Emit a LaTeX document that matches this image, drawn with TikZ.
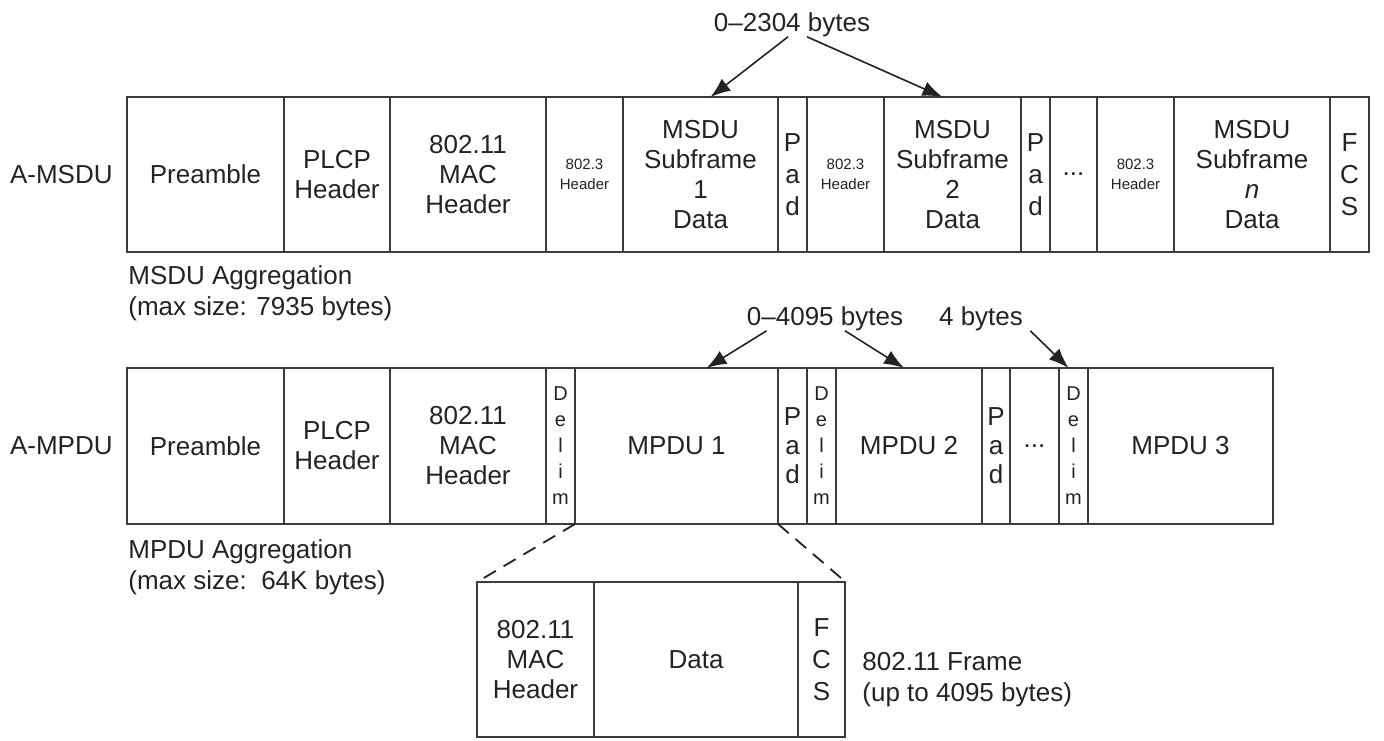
\documentclass[tikz,border=0pt]{standalone}
\usepackage{fontspec}
\setmainfont{Liberation Sans}
\usetikzlibrary{arrows.meta,positioning,calc}
\definecolor{lineclr}{RGB}{60,60,60}
\definecolor{textclr}{RGB}{35,35,35}
\tikzset{
  field/.style={draw=lineclr, line width=0.6pt, inner sep=0pt, outer sep=0pt,
    align=center, text=textclr, font=\fontsize{13}{15}\selectfont},
  tinytxt/.style={font=\fontsize{7.5}{10}\selectfont},
  padtxt/.style={font=\fontsize{13}{16}\selectfont},
  padtxtb/.style={font=\fontsize{13}{14.5}\selectfont},
  delimtxt/.style={font=\fontsize{10}{13}\selectfont},
  note/.style={inner sep=0pt, text=textclr, font=\fontsize{13}{15.5}\selectfont},
  sizeln/.style={-{Latex[length=10pt,width=7.5pt]}, line width=0.8pt, textclr},
  zoomln/.style={dash pattern=on 7pt off 4.5pt, line width=0.9pt, textclr},
}
% one field of a frame: [style] name, left x, right x, text
\newcommand{\fld}[5][]{%
  \node[field, minimum width={(#4-#3)*0.5pt}, minimum height=\rowh, #1]
    (#2) at ({(#3+#4)/2},\rowy) {#5};
}

\begin{document}
\begin{tikzpicture}[x=0.5pt, y=-0.5pt]
    \useasboundingbox (0,0) rectangle (1384,740);
    % top: A-MSDU
    \begin{scope}
      \def\rowy{174.5}\def\rowh{77.5pt}
      \fld{s-pre}{127}{284}{Preamble}
      \fld{s-plcp}{284}{390}{PLCP\\Header}
      \fld{s-mac}{390}{546}{802.11\\MAC\\Header}
      \fld[tinytxt]{s-hd1}{546}{623}{802.3\\Header}
      \fld{s-sub1}{623}{778}{MSDU\\Subframe\\1\\Data}
      \fld[padtxt]{s-pad1}{778}{807}{P\\a\\d}
      \fld[tinytxt]{s-hd2}{807}{884}{802.3\\Header}
      \fld{s-sub2}{884}{1021}{MSDU\\Subframe\\2\\Data}
      \fld[padtxt]{s-pad2}{1021}{1050}{P\\a\\d}
      \fld{s-dots}{1050}{1097}{...}
      \fld[tinytxt]{s-hdn}{1097}{1174}{802.3\\Header}
      \fld{s-subn}{1174}{1330}{MSDU\\Subframe\\\textit{n}\\Data}
      \fld[padtxt]{s-fcs}{1330}{1369}{F\\C\\S}
    \end{scope}
    \node[note, left=7pt of s-pre] (lbl-msdu) {A-MSDU};
    \node[note, align=left, anchor=north west] (agg-msdu) at (128,265)
      {MSDU Aggregation\\(max size: 7935 bytes)};
    \node[note, anchor=base] (b2304) at (792,31) {0--2304 bytes};
    \draw[sizeln] ($(b2304.south)+(-4,0)$) -- ($(s-sub1.north)+(10,0)$);
    \draw[sizeln] ($(b2304.south)+(15,0)$) -- ($(s-sub2.north)+(-10,0)$);
    % middle: A-MPDU
    \begin{scope}
      \def\rowy{446}\def\rowh{78pt}
      \fld{m-pre}{127}{284}{Preamble}
      \fld{m-plcp}{284}{390}{PLCP\\Header}
      \fld{m-mac}{390}{546}{802.11\\MAC\\Header}
      \fld[delimtxt]{m-dl1}{546}{575}{D\\e\\l\\i\\m}
      \fld{m-mp1}{575}{778}{MPDU 1}
      \fld[padtxtb]{m-pad1}{778}{807}{P\\a\\d}
      \fld[delimtxt]{m-dl2}{807}{836}{D\\e\\l\\i\\m}
      \fld{m-mp2}{836}{982}{MPDU 2}
      \fld[padtxtb]{m-pad2}{982}{1010}{P\\a\\d}
      \fld{m-dots}{1010}{1059}{...}
      \fld[delimtxt]{m-dl3}{1059}{1088}{D\\e\\l\\i\\m}
      \fld{m-mp3}{1088}{1273}{MPDU 3}
    \end{scope}
    \node[note, left=7pt of m-pre] (lbl-mpdu) {A-MPDU};
    \node[note, align=left, anchor=north west] (agg-mpdu) at (128,539)
      {MPDU Aggregation\\(max size:\ \ 64K bytes)};
    \node[note, anchor=base] (b4095) at (825,325) {0--4095 bytes};
    \node[note, anchor=base] (b4) at (981,325) {4 bytes};
    \draw[sizeln] ($(b4095.south west)+(20,0)$) -- ($(m-mp1.north)+(30,0)$);
    \draw[sizeln] ($(b4095.south)+(20,0)$) -- ($(m-mp2.north)+(-5,0)$);
    \draw[sizeln] ($(b4.south east)+(7,0)$) -- ($(m-dl3.north)+(-5,0)$);
    % bottom: one 802.11 frame
    \begin{scope}
      \def\rowy{659.5}\def\rowh{77.5pt}
      \fld{f-mac}{477}{594}{802.11\\MAC\\Header}
      \fld{f-data}{594}{798}{Data}
      \fld[padtxt]{f-fcs}{798}{845}{F\\C\\S}
    \end{scope}
    \node[note, align=left, anchor=north west] (frm-note) at (862,652)
      {802.11 Frame\\(up to 4095 bytes)};
    \draw[zoomln] (m-dl1.south east) -- (f-mac.north west);
    \draw[zoomln] (m-pad1.south west) -- ($(f-fcs.north east)+(-4,-4)$);
\end{tikzpicture}
\end{document}
